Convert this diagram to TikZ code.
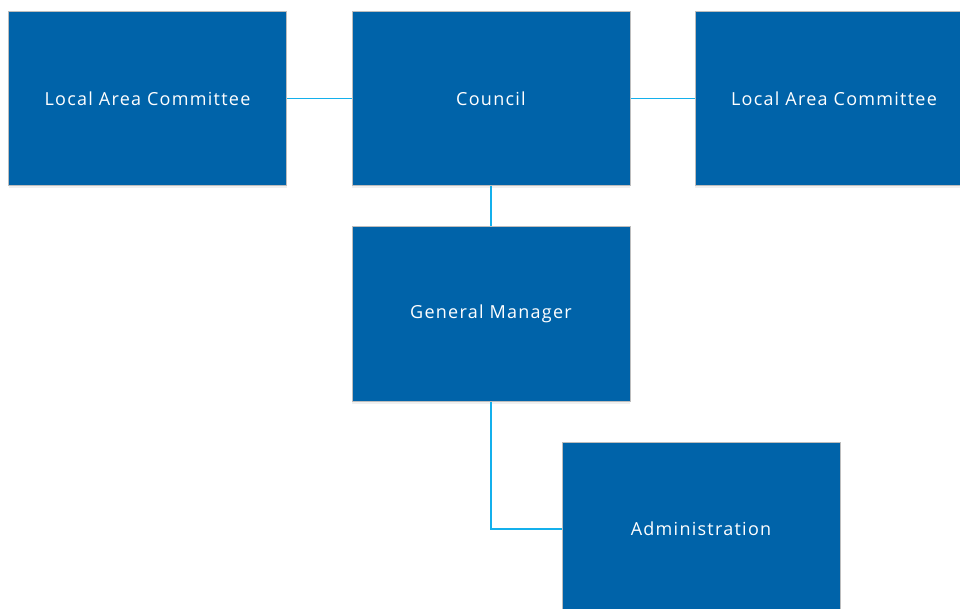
\documentclass[tikz,border=0pt]{standalone}
\usepackage{fontspec}
\setmainfont{Open Sans}[LetterSpace=7]
\usetikzlibrary{shadows}
\definecolor{boxblue}{HTML}{0063A9}
\definecolor{boxedge}{HTML}{BDBDBD}
\definecolor{linkblue}{HTML}{14B0EC}
\tikzset{
    unit/.style={draw=boxedge, line width=1pt, fill=boxblue, text=white,
        minimum width=278pt, minimum height=174pt, inner sep=0pt,
        font=\fontsize{18}{21}\selectfont,
        drop shadow={opacity=0.12, shadow xshift=0pt, shadow yshift=-3pt}},
    link/.style={draw=linkblue, line width=1.2pt}
}
\begin{document}
\begin{tikzpicture}[x=1pt,y=-1pt]
        \useasboundingbox (0,0) rectangle (960,609);
        \clip (0,0) rectangle (960,609);
        % Top row
        \node[unit] (lacleft) at (147.5,98.5) {Local Area Committee};
        \node[unit] (council) at (491,98.5) {Council};
        \node[unit] (lacright) at (834,98.5) {Local Area Committee};
        % Below the council
        \node[unit] (gm) at (491,314) {General Manager};
        \node[unit] (admin) at (701,529) {Administration};
        % Links
        \draw[link] (lacleft.east) -- (council.west);
        \draw[link] (council.east) -- (lacright.west);
        \draw[link] (council.south) -- (gm.north);
        \draw[link] (gm.south) |- (admin.west);
    \end{tikzpicture}
\end{document}
